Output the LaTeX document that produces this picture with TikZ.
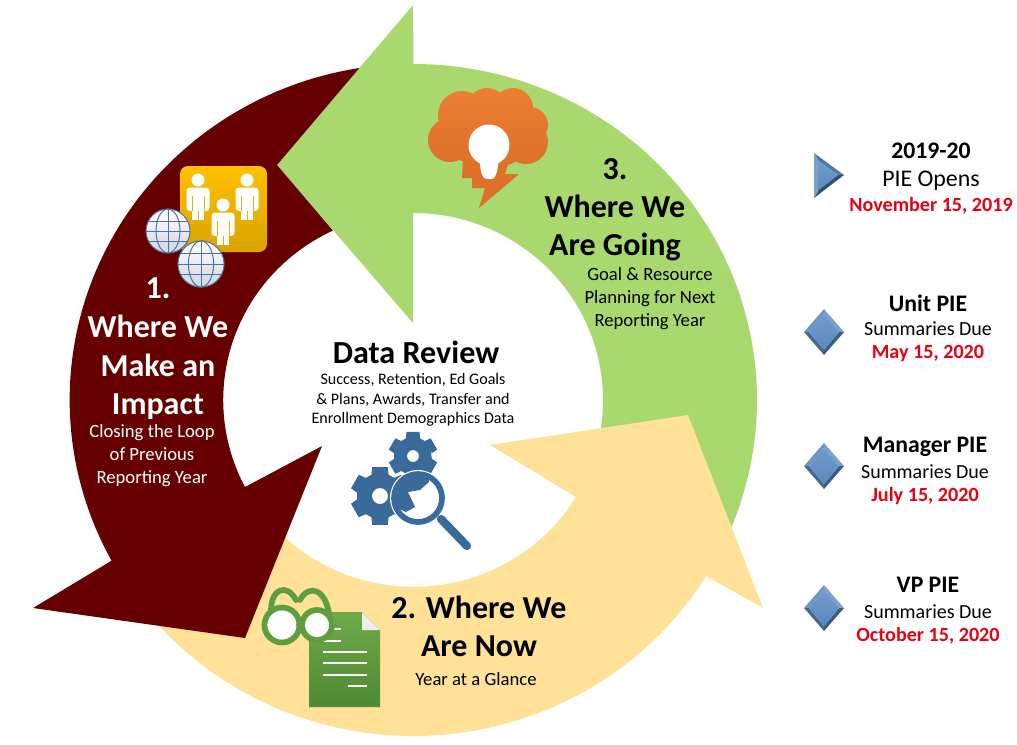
\documentclass[tikz,border=0pt]{standalone}
\usepackage{fontspec}
\usetikzlibrary{calc}
\setmainfont{Carlito}
\tikzset{
  ringmaroon/.style={fill=maroonc},
  ringgreen/.style={fill=greenc},
  ringyellow/.style={fill=yellowc},
  txt/.style={inner sep=0pt,align=center},
  head/.style={txt,font=\fontsize{24}{28.5}\selectfont\bfseries},
  sub/.style={txt,font=\fontsize{14}{17.2}\selectfont},
  dhead/.style={txt,font=\fontsize{17.8}{20}\selectfont\bfseries},
  dsub/.style={txt,font=\fontsize{15}{20}\selectfont},
  ddate/.style={txt,font=\fontsize{15.1}{20}\selectfont\bfseries,text=datered},
  person/.pic={
    \fill[white] (0,0) circle[radius=6.5];
    \fill[white,rounded corners=2.5] (-11.5,7.5) rectangle (11.5,31);
    \fill[white] (-6,28) rectangle (6,40);
    \draw[personline,line width=.4pt] (-6,16) -- (-6,31) (6,16) -- (6,31) (0,31) -- (0,40);
  },
  globe/.pic={
    \shade[top color=white,bottom color=globebot] (0,0) circle[radius=22];
    \begin{scope}[globeline,line width=.75pt]
      \draw (0,0) circle[radius=22];
      \draw (0,0) ellipse[x radius=12,y radius=22];
      \draw (0,-22) -- (0,22) (-19.5,-10) -- (19.5,-10) (-22,0) -- (22,0) (-19.5,10) -- (19.5,10);
    \end{scope}
  },
  gearbig/.pic={
    \fill[gearblue,even odd rule] (-22:23)
      \foreach \a in {30,90,...,330} { -- (\a-22:23) -- (\a-15:30) -- (\a+15:30) -- (\a+22:23) } -- cycle
      (0,0) circle[radius=8];
  },
  gearsmall/.pic={
    \fill[gearblue,even odd rule] (-22:19)
      \foreach \a in {30,90,...,330} { -- (\a-22:19) -- (\a-15:25) -- (\a+15:25) -- (\a+22:19) } -- cycle
      (0,0) circle[radius=6];
  },
  bevel/.pic={
    \fill[bevA] (-20,0) -- (0,-23) -- (0,-18) -- (-15,0) -- cycle;
    \fill[bevB] (0,-23) -- (20,0) -- (15,0) -- (0,-18) -- cycle;
    \fill[bevC] (20,0) -- (0,23) -- (0,18) -- (15,0) -- cycle;
    \fill[bevD] (0,23) -- (-20,0) -- (-15,0) -- (0,18) -- cycle;
    \shade[top color=faceA,bottom color=faceB] (-15,0) -- (0,-18) -- (15,0) -- (0,18) -- cycle;
  },
}
\definecolor{maroonc}{HTML}{660000}
\definecolor{greenc}{HTML}{A9D86E}
\definecolor{yellowc}{HTML}{FFE198}
\definecolor{datered}{HTML}{E60012}
\definecolor{personline}{HTML}{E8B000}
\definecolor{globebot}{HTML}{CFD6E0}
\definecolor{globeline}{HTML}{4F739E}
\definecolor{gearblue}{HTML}{3A6A9A}
\definecolor{bevA}{HTML}{6E95C4}
\definecolor{bevB}{HTML}{7EA0C8}
\definecolor{bevC}{HTML}{3A5B80}
\definecolor{bevD}{HTML}{48698F}
\definecolor{faceA}{HTML}{709BCE}
\definecolor{faceB}{HTML}{5B88BC}
\definecolor{triL}{HTML}{7D9EC6}
\definecolor{triT}{HTML}{5277A5}
\definecolor{triB}{HTML}{2F4F73}
\definecolor{orangeA}{HTML}{EB7F33}
\definecolor{orangeB}{HTML}{DE7028}
\definecolor{glassgreen}{HTML}{5E9E3E}
\definecolor{docA}{HTML}{6FAA48}
\definecolor{docB}{HTML}{4E8A34}
\definecolor{foldc}{HTML}{EDEFEA}
\definecolor{goldA}{HTML}{FFC000}
\definecolor{goldB}{HTML}{D9A300}
\begin{document}
\begin{tikzpicture}[x=0.75pt,y=-0.75pt]
\useasboundingbox (0,0) rectangle (1017,744);
\coordinate (C) at (413.5,400);
% ------ ring arrows
\path[ringgreen] (413,5) -- (277,165) -- (413,323) -- (413,213)
  arc[start angle=-90,end angle=12,x radius=190,y radius=187]
  -- ($(C)+({343.5*cos(25)},{336*sin(25)})$)
  arc[start angle=25,end angle=-90,x radius=343.5,y radius=336] -- cycle;
\path[ringyellow] (688,415) -- (490,445) -- (576,497)
  arc[start angle=31.3,end angle=140,x radius=190,y radius=187]
  -- ($(C)+({343.5*cos(140)},{336*sin(140)})$)
  arc[start angle=140,end angle=31.6,x radius=343.5,y radius=336]
  -- (763,608) -- cycle;
\path[ringmaroon] (359.4,68)
  arc[start angle=-99.0,end angle=-208.6,x radius=343.5,y radius=336]
  -- (33,608) -- (245,638) -- (322,446) -- (245,487)
  arc[start angle=152.3,end angle=245,x radius=190,y radius=187]
  -- (277,165) -- cycle;
% ------ people icon
\shade[top color=goldA,bottom color=goldB,rounded corners=6] (180,166) rectangle (267,252);
\pic at (198,180) {person};
\pic at (247,180) {person};
\pic at (223,205) {person};
\pic at (168,231) {globe};
\pic[scale=1.05] at (201,264) {globe};
% ------ cloud icon
\fill[orangeB] (463,158) -- (462,178) -- (472,178) -- (472,188) -- (485,188) -- (479,208) -- (519,174) -- (505,174) -- (510,158) -- cycle;
\shade[top color=orangeA,bottom color=orangeB]
  (450,140) circle[radius=22] (462,115) circle[radius=24] (487,108) circle[radius=20]
  (513,108) circle[radius=20] (530,125) circle[radius=18] (526,142) circle[radius=22]
  (470,145) circle[radius=18] (505,147) circle[radius=18] (488,130) circle[radius=30];
\fill[white] (489,145) circle[radius=20.5];
\fill[white,rounded corners=2] (479,158) -- (499,158) -- (497,172) -- (494,179) -- (484,179) -- (481,172) -- cycle;
% ------ gears
\pic at (380,496) {gearbig};
\pic at (413,456) {gearsmall};
\fill[white] (418,498) circle[radius=28];
\begin{scope}
  \clip (418,498) circle[radius=23];
  \fill[gearblue] (429,482) -- (420,490) -- (408,492) -- (415,507) -- (406,512) -- (390,505) -- (395,470) -- (430,470) -- cycle;
\end{scope}
\draw[gearblue,line width=4.3pt] (418,498) circle[radius=24];
\draw[gearblue,line width=6.2pt,line cap=round] (441,519) -- (467,546);
% ------ document + glasses
\shade[top color=docA,bottom color=docB] (309,612) -- (362,612) -- (380,630) -- (380,707) -- (309,707) -- cycle;
\fill[foldc] (362,612) -- (380,630) -- (362,630) -- cycle;
\begin{scope}[white,line width=1.9pt]
  \draw (333,629) -- (341,629) (323,641) -- (341,641) (323,652) -- (367,652)
        (323,663) -- (367,663) (323,675) -- (367,675) (348,686) -- (367,686);
\end{scope}
\begin{scope}[glassgreen,line width=4.3pt,line cap=round]
  \draw[fill=white] (282,625) circle[radius=17.5];
  \draw[fill=white] (317,625) circle[radius=15];
  \draw (299,625) -- (302,625);
  \draw (271,611) .. controls (271,588) and (287,583) .. (296,600);
  \draw (300,600) .. controls (309,583) and (326,590) .. (329,614);
\end{scope}
% ------ markers
\fill[triT] (814,153) -- (844,175) -- (838,175) -- (818.5,161) -- cycle;
\fill[triB] (814,198) -- (844,175) -- (838,175) -- (818.5,190) -- cycle;
\fill[triL] (814,153) -- (818.5,161) -- (818.5,190) -- (814,198) -- cycle;
\shade[top color=faceA,bottom color=faceB] (818.5,161) -- (838,175) -- (818.5,190) -- cycle;
\pic at (824,332) {bevel};
\pic at (824,466) {bevel};
\pic at (824,608) {bevel};
% ------ text
\node[head,text=white,font=\fontsize{24}{29}\selectfont\bfseries] (t1) at (158,349) {1.\\Where We\\Make an\\Impact};
\node[sub,text=white] (t1s) at (152,456) {Closing the Loop\\of Previous\\Reporting Year};
\node[head] (t2) at (479,626) {2. Where We\\Are Now};
\node[sub] (t2s) at (476,679) {Year at a Glance};
\node[head] (t3) at (615,210) {3.\\Where We\\Are Going};
\node[sub] (t3s) at (650,299) {Goal \& Resource\\Planning for Next\\Reporting Year};
\node[txt,font=\fontsize{24.1}{26}\selectfont\bfseries] (dr) at (416,352) {Data Review};
\node[txt,font=\fontsize{12.05}{14.6}\selectfont] (drs) at (413,400) {Success, Retention, Ed Goals\\\& Plans, Awards, Transfer and\\Enrollment Demographics Data};
\node[dhead] (a1) at (931,151) {2019-20};
\node[txt,font=\fontsize{17.9}{20}\selectfont] (a2) at (931,181) {PIE Opens};
\node[ddate] (a3) at (931,206) {November 15, 2019};
\node[dhead] (b1) at (928,303) {Unit PIE};
\node[dsub] (b2) at (928,329) {Summaries Due};
\node[ddate] (b3) at (928,353) {May 15, 2020};
\node[dhead] (c1) at (925,447) {Manager PIE};
\node[dsub] (c2) at (925,472) {Summaries Due};
\node[ddate] (c3) at (925,496) {July 15, 2020};
\node[dhead] (d1) at (928,585) {VP PIE};
\node[dsub] (d2) at (928,612) {Summaries Due};
\node[ddate] (d3) at (928,636) {October 15, 2020};
\end{tikzpicture}
\end{document}
